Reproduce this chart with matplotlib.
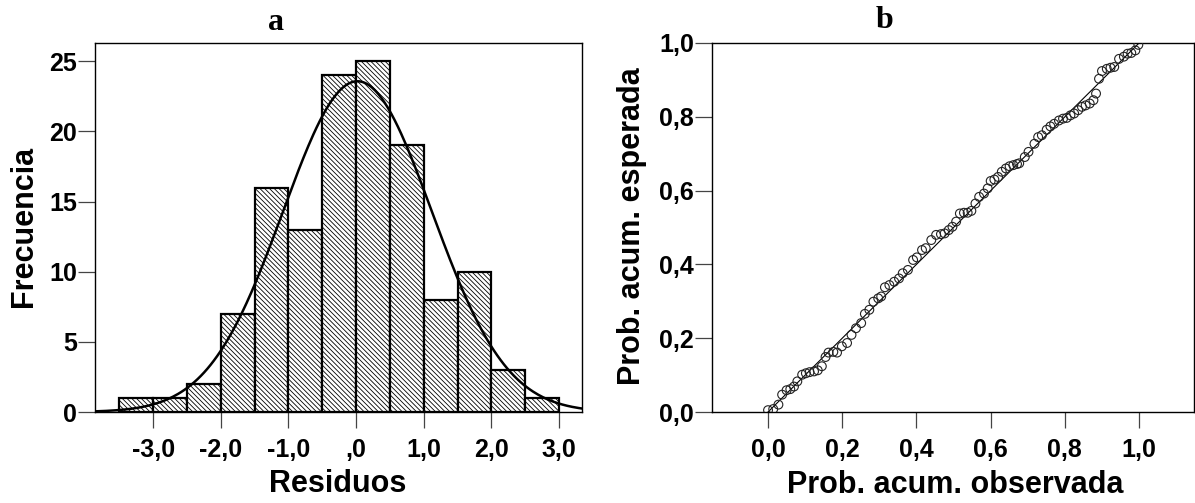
import numpy as np
import matplotlib
matplotlib.use("Agg")
import matplotlib.pyplot as plt

# histogram of residuals (panel a)
bin_edges = [-3.5, -3.0, -2.5, -2.0, -1.5, -1.0, -0.5, 0.0, 0.5, 1.0, 1.5, 2.0, 2.5, 3.0]
counts = [1, 1, 2, 7, 16, 13, 24, 25, 19, 8, 10, 3, 1]
res_mean = 0.02
res_sd = 1.10
x_ticks_a = [-3, -2, -1, 0, 1, 2, 3]
x_labels_a = ["-3,0", "-2,0", "-1,0", ",0", "1,0", "2,0", "3,0"]
y_ticks_a = [0, 5, 10, 15, 20, 25]

# P-P plot (panel b): observed vs expected cumulative probability
obs = [0.000, 0.014, 0.028, 0.038, 0.050, 0.060, 0.070, 0.079, 0.092, 0.102,
       0.112, 0.124, 0.134, 0.145, 0.155, 0.163, 0.176, 0.186, 0.199, 0.213,
       0.225, 0.237, 0.251, 0.261, 0.273, 0.284, 0.297, 0.305, 0.315, 0.327,
       0.340, 0.353, 0.363, 0.377, 0.391, 0.401, 0.415, 0.425, 0.440, 0.453,
       0.466, 0.476, 0.487, 0.497, 0.507, 0.517, 0.528, 0.538, 0.548, 0.559,
       0.569, 0.582, 0.592, 0.600, 0.610, 0.620, 0.630, 0.641, 0.651, 0.661,
       0.671, 0.677, 0.692, 0.702, 0.718, 0.728, 0.738, 0.751, 0.761, 0.771,
       0.784, 0.795, 0.805, 0.815, 0.825, 0.836, 0.846, 0.856, 0.867, 0.877,
       0.884, 0.892, 0.900, 0.913, 0.923, 0.933, 0.946, 0.959, 0.969, 0.979,
       0.990, 0.998]
esp = [0.005, 0.008, 0.020, 0.047, 0.059, 0.062, 0.069, 0.083, 0.101, 0.105,
       0.108, 0.110, 0.113, 0.124, 0.149, 0.161, 0.163, 0.161, 0.178, 0.187,
       0.209, 0.227, 0.241, 0.266, 0.277, 0.299, 0.308, 0.313, 0.338, 0.344,
       0.353, 0.362, 0.376, 0.385, 0.412, 0.419, 0.439, 0.444, 0.466, 0.480,
       0.482, 0.484, 0.493, 0.502, 0.516, 0.538, 0.540, 0.540, 0.545, 0.565,
       0.583, 0.592, 0.606, 0.626, 0.630, 0.637, 0.651, 0.660, 0.666, 0.669,
       0.672, 0.674, 0.691, 0.705, 0.727, 0.745, 0.750, 0.765, 0.774, 0.781,
       0.790, 0.795, 0.797, 0.804, 0.809, 0.818, 0.827, 0.831, 0.836, 0.845,
       0.863, 0.903, 0.924, 0.930, 0.933, 0.935, 0.957, 0.963, 0.971, 0.973,
       0.980, 0.995]
pp_ticks = [0.0, 0.2, 0.4, 0.6, 0.8, 1.0]
pp_labels = ["0,0", "0,2", "0,4", "0,6", "0,8", "1,0"]

plt.rcParams['font.family'] = ['Liberation Sans', 'DejaVu Sans']
plt.rcParams['hatch.linewidth'] = 0.6
tick_font = dict(fontsize=18, fontweight='bold')
label_font = dict(fontsize=22, fontweight='bold')

fig = plt.figure(figsize=(11.95, 5.03), dpi=100)
W, H = 1195, 503

def px_axes(left, right, top, bottom):
    return fig.add_axes([left / W, 1 - bottom / H, (right - left) / W, (bottom - top) / H])

def style(ax):
    for sp in ax.spines.values():
        sp.set_linewidth(1.0)
        sp.set_color('black')
    ax.tick_params(axis='x', direction='out', length=11.5, width=0.9, color='#444444', pad=7)
    ax.tick_params(axis='y', direction='out', length=12, width=0.9, color='#444444', pad=1)

# ---- panel a
ax1 = px_axes(95, 582, 43, 412)
widths = np.diff(bin_edges)
ax1.bar(bin_edges[:-1], counts, width=widths, align='edge', color='white',
        edgecolor='black', linewidth=1.6, hatch='\\' * 7)
xs = np.linspace(-3.86, 3.34, 300)
bw = widths[0]
curve = sum(counts) * bw * np.exp(-0.5 * ((xs - res_mean) / res_sd) ** 2) / (res_sd * np.sqrt(2 * np.pi))
ax1.plot(xs, curve, color='black', linewidth=1.8)
ax1.set_xlim(-3.86, 3.34)
ax1.set_ylim(0, 26.3)
ax1.set_xticks(x_ticks_a)
ax1.set_xticklabels(x_labels_a, **tick_font)
ax1.set_yticks(y_ticks_a)
ax1.set_yticklabels([str(v) for v in y_ticks_a], **tick_font)
style(ax1)

# ---- panel b
ax2 = px_axes(712, 1194, 43, 412)
ax2.plot([0, 1], [0, 1], color='black', linewidth=0.8)
ax2.scatter(obs, esp, s=40, facecolors='none', edgecolors='#222222', linewidths=0.8, zorder=3)
ax2.set_xlim(-0.151, 1.148)
ax2.set_ylim(0, 1)
ax2.set_xticks(pp_ticks)
ax2.set_xticklabels(pp_labels, **tick_font)
ax2.set_yticks(pp_ticks)
ax2.set_yticklabels(pp_labels, **tick_font)
style(ax2)

# titles and axis labels
fig.text(276 / W, 1 - 22 / H, "a", ha='center', va='center', fontsize=23,
         fontweight='bold', family=['Liberation Serif', 'DejaVu Serif'])
fig.text(885 / W, 1 - 21 / H, "b", ha='center', va='center', fontsize=23,
         fontweight='bold', family=['Liberation Serif', 'DejaVu Serif'])
fig.text(24 / W, 1 - 226 / H, "Frecuencia", rotation=90, ha='center', va='center', **label_font)
fig.text(338 / W, 1 - 484 / H, "Residuos", ha='center', va='center', **label_font)
fig.text(632 / W, 1 - 226 / H, "Prob. acum. esperada", rotation=90, ha='center', va='center', **label_font)
fig.text(955 / W, 1 - 485 / H, "Prob. acum. observada", ha='center', va='center', **label_font)

fig.savefig("out.png", dpi=100)
